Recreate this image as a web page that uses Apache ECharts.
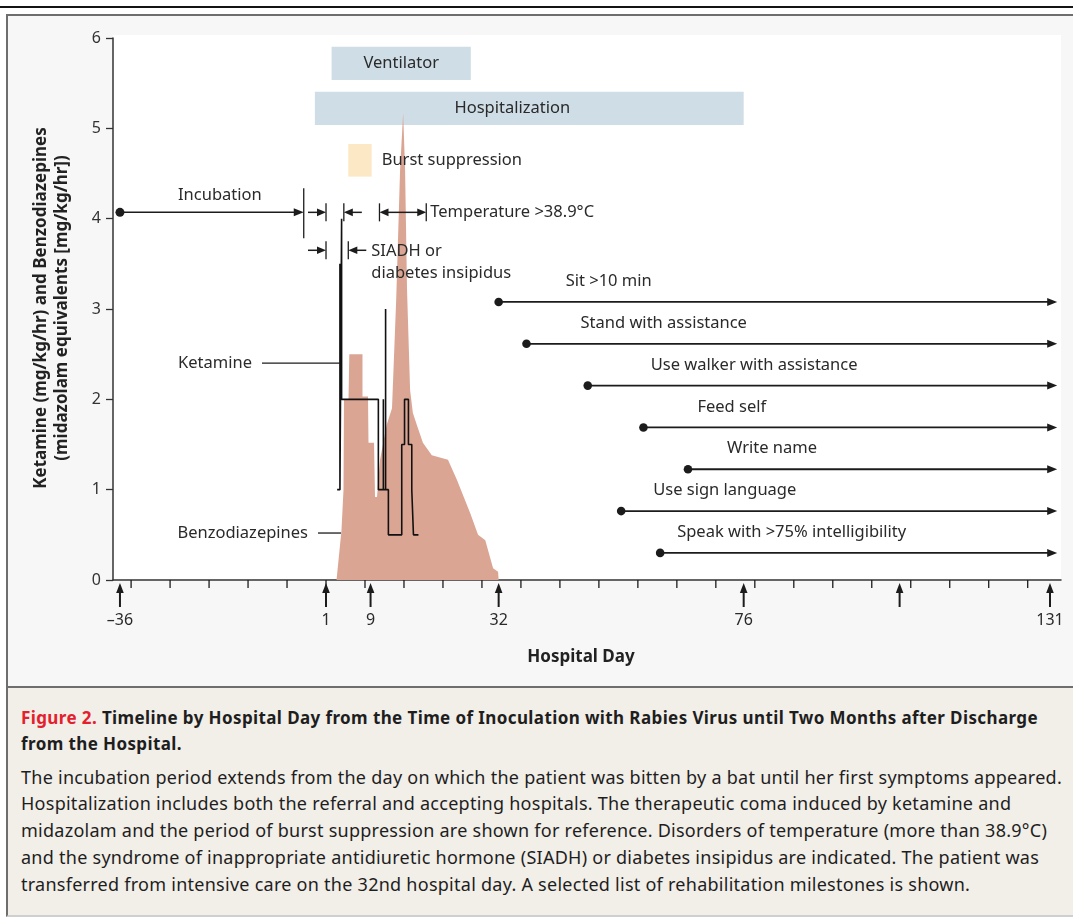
<!DOCTYPE html>
<html>
<head>
<meta charset="utf-8">
<title>Figure 2. Timeline by Hospital Day</title>
<script src="https://cdn.jsdelivr.net/npm/echarts@6.0.0/dist/echarts.min.js"></script>
<style>
html,body{margin:0;padding:0;background:#fff;}
#page{position:relative;width:1073px;height:918px;overflow:hidden;font-family:"Noto Sans",sans-serif;}
.abs{position:absolute;box-sizing:border-box;}
#topline{left:0;top:6px;width:1073px;height:2px;background:#141414;}
#panel{left:6px;top:14px;width:1067px;height:674px;background:#f7f7f7;border-top:2px solid #6e6e6e;border-left:2px solid #6e6e6e;border-bottom:2px solid #6e6e6e;}
#plotbg{left:113px;top:35px;width:948px;height:546px;background:#fff;}
#caption{left:6px;top:688px;width:1067px;height:229px;background:#f2eee8;border-left:2px solid #6e6e6e;border-bottom:2px solid #cfcfcf;}
#chart{left:0;top:0;width:1073px;height:688px;}
.cl{position:absolute;left:21px;white-space:nowrap;color:#1e1e1e;line-height:26px;height:26px;}
.ttl{font-weight:700;font-size:17px;}
.bd{font-size:18px;}
.red{color:#e4202c;}
</style>
</head>
<body>
<div id="page">
  <div id="topline" class="abs"></div>
  <div id="panel" class="abs"></div>
  <div id="plotbg" class="abs"></div>
  <div id="caption" class="abs"></div>
  <div id="chart" class="abs"></div>
  <div class="cl ttl" data-g="t" data-ref="1017" style="top:705px"><span class="red">Figure 2.</span> Timeline by Hospital Day from the Time of Inoculation with Rabies Virus until Two Months after Discharge</div>
  <div class="cl ttl" data-g="t" style="top:731px">from the Hospital.</div>
  <div class="cl bd" data-g="b" data-ref="1041" style="top:764px">The incubation period extends from the day on which the patient was bitten by a bat until her first symptoms appeared.</div>
  <div class="cl bd" data-g="b" style="top:790px">Hospitalization includes both the referral and accepting hospitals. The therapeutic coma induced by ketamine and</div>
  <div class="cl bd" data-g="b" style="top:817px">midazolam and the period of burst suppression are shown for reference. Disorders of temperature (more than 38.9°C)</div>
  <div class="cl bd" data-g="b" style="top:844px">and the syndrome of inappropriate antidiuretic hormone (SIADH) or diabetes insipidus are indicated. The patient was</div>
  <div class="cl bd" data-g="b" style="top:871px">transferred from intensive care on the 32nd hospital day. A selected list of rehabilitation milestones is shown.</div>
</div>
<script>
// ---------------- DATA ----------------
const dayArrowValues = [-36, 1, 9, 32, 76, 104, 131];
const dayArrowLabels = ['\u201336', '1', '9', '32', '76', '', '131'];

const benzoDays   = [2.89, 3.78, 4.14, 4.23, 5.04, 5.18, 7.55, 7.55, 8.54, 8.63, 9.62, 9.8, 10.16, 10.7, 11.9, 12.85, 13.6, 14.3, 14.85, 15.2, 15.55, 16.1, 16.6, 17.3, 18.4, 20.0, 22.9, 24.5, 26.9, 28.3, 29.6, 31.0, 31.9, 32.0];
const benzoValues = [0, 0.55, 1.0, 2.0, 2.0, 2.5, 2.5, 2.03, 2.03, 1.52, 1.52, 0.92, 0.92, 1.33, 1.72, 1.9, 3.1, 4.54, 5.17, 4.54, 3.21, 2.1, 1.85, 1.72, 1.52, 1.38, 1.33, 1.11, 0.74, 0.5, 0.44, 0.13, 0.09, 0];

const ketamineDays   = [3.0, 3.5, 3.5, 3.5, 3.8, 3.8, 3.8, 10.4, 10.4, 11.3, 11.3, 11.3, 11.7, 11.7, 11.7, 12.2, 12.2, 14.6, 14.6, 15.1, 15.1, 15.8, 15.8, 16.4, 16.4, 16.7, 16.7, 17.6];
const ketamineValues = [1, 1, 3.5, 1, 1, 4, 2, 2, 1, 1, 2, 1, 1, 3, 1, 1, 0.5, 0.5, 1.5, 1.5, 2, 2, 1.5, 1.5, 1, 1, 0.5, 0.5];

const periodNames = ['Ventilator', 'Hospitalization', 'Burst suppression'];
const periodStart = [2, -1, 5];
const periodEnd   = [27, 76, 9.2];

const incubationPeriod   = [-36, -3];
const temperaturePeriods = [[1, 4.2], [10.6, 19]];
const siadhPeriods       = [[1, 5]];

const milestoneNames = ['Sit >10 min', 'Stand with assistance', 'Use walker with assistance', 'Feed self', 'Write name', 'Use sign language', 'Speak with >75% intelligibility'];
const milestoneStartDays = [32, 37, 48, 58, 66, 54, 61];

// ---------------- LAYOUT / STYLE ----------------
const X_MIN = -37.25, X_MAX = 132.98;
const periodRows = [[5.535, 5.904], [5.037, 5.406], [4.465, 4.827]];
const periodColors = ['#cfdde6', '#cfdde6', '#fde8c6'];
const periodLabelInside = [true, true, false];
const periodLabelShift = [0, -17, 0];
const ROW_TEMP = 4.07, ROW_SIADH = 3.65;
const MS_TOP = 3.078, MS_STEP = 0.463, MS_END = 132.3;
const milestoneLabelOffset = [67, 54, 63, 54, 39, 32, 17];
const pointerLabels = [
  {text: 'Ketamine', day: 3.51, value: 2.40, len: 78},
  {text: 'Benzodiazepines', day: 3.69, value: 0.52, len: 23}
];
const C = '#1c1c1c', TXT = '#2a2a2a';
const F16 = '16.5px "Noto Sans", sans-serif';

function txt(x, y, s, opt) {
  return {type: 'text', style: Object.assign({x: x, y: y, text: s, fill: TXT, font: F16, align: 'left', verticalAlign: 'middle'}, opt || {})};
}
function seg(x1, y1, x2, y2, w) {
  return {type: 'line', shape: {x1: x1, y1: y1, x2: x2, y2: y2}, style: {stroke: C, lineWidth: w || 1.5}};
}
function head(tx, ty, dx, dy, len, half) {
  const bx = tx - dx * len, by = ty - dy * len, px = -dy, py = dx;
  return {type: 'polygon', shape: {points: [[tx, ty], [bx + px * half, by + py * half], [bx - px * half, by - py * half]]}, style: {fill: C}};
}
function intervalMarks(ch, api, s, e, rowVal) {
  const x0 = api.coord([s, rowVal])[0], x1 = api.coord([e, rowVal])[0], y = api.coord([0, rowVal])[1];
  ch.push(seg(x0, y - 9, x0, y + 9, 1.3));
  ch.push(seg(x1, y - 9, x1, y + 9, 1.3));
  if (x1 - x0 < 40) {
    ch.push(seg(x0 - 18, y, x0 - 8, y));
    ch.push(head(x0, y, 1, 0, 9, 3.8));
    ch.push(seg(x1 + 18, y, x1 + 8, y));
    ch.push(head(x1, y, -1, 0, 9, 3.8));
    return x1 + 18;
  } else {
    ch.push(seg(x0 + 8, y, x1 - 8, y));
    ch.push(head(x0, y, -1, 0, 9, 3.8));
    ch.push(head(x1, y, 1, 0, 9, 3.8));
    return x1;
  }
}

const chart = echarts.init(document.getElementById('chart'), null, {renderer: 'canvas'});
const option = {
  backgroundColor: 'transparent',
  animation: false,
  textStyle: {fontFamily: '"Noto Sans", sans-serif'},
  grid: {left: 113, right: 12, top: 38, bottom: 108, containLabel: false},
  xAxis: {
    type: 'value', min: X_MIN, max: X_MAX,
    axisLine: {show: true, onZero: false, lineStyle: {color: '#333', width: 1.5}},
    axisTick: {show: false}, axisLabel: {show: false}, splitLine: {show: false}
  },
  yAxis: {
    type: 'value', min: 0, max: 6, interval: 1,
    axisLine: {show: true, onZero: false, lineStyle: {color: '#333', width: 1.5}},
    axisTick: {show: true, length: 7, lineStyle: {color: '#333', width: 1.3}},
    axisLabel: {fontSize: 16, color: '#333', margin: 12},
    splitLine: {show: false}
  },
  graphic: [
    {type: 'text', x: 41, y: 308, rotation: Math.PI / 2, style: {text: 'Ketamine (mg/kg/hr) and Benzodiazepines', font: 'bold 17px "Noto Sans", sans-serif', fill: '#222', align: 'center', verticalAlign: 'middle'}},
    {type: 'text', x: 62, y: 308, rotation: Math.PI / 2, style: {text: '(midazolam equivalents [mg/kg/hr])', font: 'bold 17px "Noto Sans", sans-serif', fill: '#222', align: 'center', verticalAlign: 'middle'}},
    {type: 'text', x: 581, y: 657, style: {text: 'Hospital Day', font: 'bold 17px "Noto Sans", sans-serif', fill: '#222', align: 'center', verticalAlign: 'middle'}}
  ],
  series: [
    {
      name: 'periods', type: 'custom', z: 1, silent: true,
      data: periodNames.map((n, i) => [periodStart[i], periodEnd[i]]),
      renderItem: function (params, api) {
        const i = params.dataIndex, r = periodRows[i];
        const a = api.coord([api.value(0), r[1]]), b = api.coord([api.value(1), r[0]]);
        return {type: 'rect', shape: {x: a[0], y: a[1], width: b[0] - a[0], height: b[1] - a[1]}, style: {fill: periodColors[i]}};
      }
    },
    {
      name: 'Benzodiazepines', type: 'line', z: 2, silent: true, symbol: 'none',
      data: benzoDays.map((d, i) => [d, benzoValues[i]]),
      lineStyle: {width: 0, color: '#dba594'},
      areaStyle: {color: '#dba594', opacity: 1}
    },
    {
      name: 'Ketamine', type: 'line', z: 5, silent: true, symbol: 'none',
      data: ketamineDays.map((d, i) => [d, ketamineValues[i]]),
      lineStyle: {width: 1.6, color: '#111'}
    },
    {
      name: 'periodLabels', type: 'custom', z: 10, silent: true,
      data: periodNames.map((n, i) => [periodStart[i], periodEnd[i]]),
      renderItem: function (params, api) {
        const i = params.dataIndex, r = periodRows[i];
        const a = api.coord([api.value(0), r[1]]), b = api.coord([api.value(1), r[0]]);
        const cy = (a[1] + b[1]) / 2;
        if (periodLabelInside[i]) {
          return txt((a[0] + b[0]) / 2 + periodLabelShift[i], cy, periodNames[i], {align: 'center'});
        }
        return txt(b[0] + 10, cy, periodNames[i]);
      }
    },
    {
      name: 'events', type: 'custom', z: 10, silent: true,
      data: [[0, 0]],
      renderItem: function (params, api) {
        const ch = [];
        const a = api.coord([incubationPeriod[0], ROW_TEMP]), b = api.coord([incubationPeriod[1], ROW_TEMP]);
        const yT = a[1];
        ch.push({type: 'circle', shape: {cx: a[0], cy: yT, r: 4.5}, style: {fill: C}});
        ch.push(seg(a[0], yT, b[0] - 8, yT));
        ch.push(head(b[0], yT, 1, 0, 10, 4));
        ch.push(seg(b[0], yT - 24, b[0], yT + 26, 1.3));
        ch.push(txt((a[0] + b[0]) / 2 + 8, yT - 17, 'Incubation', {align: 'center'}));
        let endT = 0;
        temperaturePeriods.forEach(p => { endT = intervalMarks(ch, api, p[0], p[1], ROW_TEMP); });
        ch.push(txt(endT + 4, yT, 'Temperature >38.9\u00b0C'));
        let endS = 0;
        siadhPeriods.forEach(p => { endS = intervalMarks(ch, api, p[0], p[1], ROW_SIADH); });
        const yS = api.coord([0, ROW_SIADH])[1];
        ch.push(txt(endS + 5, yS + 1, 'SIADH or'));
        ch.push(txt(endS + 5, yS + 23, 'diabetes insipidus'));
        pointerLabels.forEach(p => {
          const t = api.coord([p.day, p.value]);
          ch.push(seg(t[0] - p.len, t[1], t[0], t[1], 1.3));
          ch.push(txt(t[0] - p.len - 10, t[1], p.text, {align: 'right'}));
        });
        return {type: 'group', children: ch};
      }
    },
    {
      name: 'milestones', type: 'custom', z: 10, silent: true,
      data: milestoneStartDays.map(d => [d, 0]),
      renderItem: function (params, api) {
        const i = params.dataIndex, row = MS_TOP - i * MS_STEP;
        const s = api.coord([api.value(0), row]), e = api.coord([MS_END, row]);
        return {type: 'group', children: [
          {type: 'circle', shape: {cx: s[0], cy: s[1], r: 4.3}, style: {fill: C}},
          seg(s[0], s[1], e[0] - 8, s[1], 1.8),
          head(e[0], s[1], 1, 0, 10, 4),
          txt(s[0] + milestoneLabelOffset[i], s[1] - 20.5, milestoneNames[i])
        ]};
      }
    },
    {
      name: 'dayAxis', type: 'custom', z: 10, silent: true,
      data: [[0, 0]],
      renderItem: function (params, api) {
        const ch = [];
        const y0 = api.coord([0, 0])[1];
        for (let d = -34; d <= 127; d += 7) {
          const x = api.coord([d, 0])[0];
          ch.push(seg(x, y0, x, y0 + 8, 1.3));
        }
        dayArrowValues.forEach((d, i) => {
          const x = api.coord([d, 0])[0];
          ch.push(seg(x, y0 + 27, x, y0 + 11, 2));
          ch.push(head(x, y0 + 3, 0, -1, 10, 3.8));
          if (dayArrowLabels[i]) ch.push(txt(x, y0 + 40, dayArrowLabels[i], {align: 'center', font: '16px "Noto Sans", sans-serif'}));
        });
        return {type: 'group', children: ch};
      }
    }
  ]
};
chart.setOption(option);

// caption fitting: match the reference line widths with uniform letter-spacing per group
['t', 'b'].forEach(g => {
  const lines = Array.from(document.querySelectorAll('.cl[data-g="' + g + '"]'));
  const ref = lines.find(l => l.dataset.ref);
  const w = ref.getBoundingClientRect().width;
  const n = ref.textContent.length;
  const ls = (parseFloat(ref.dataset.ref) - w) / n;
  lines.forEach(l => { l.style.letterSpacing = ls.toFixed(3) + 'px'; });
});
</script>
</body>
</html>
